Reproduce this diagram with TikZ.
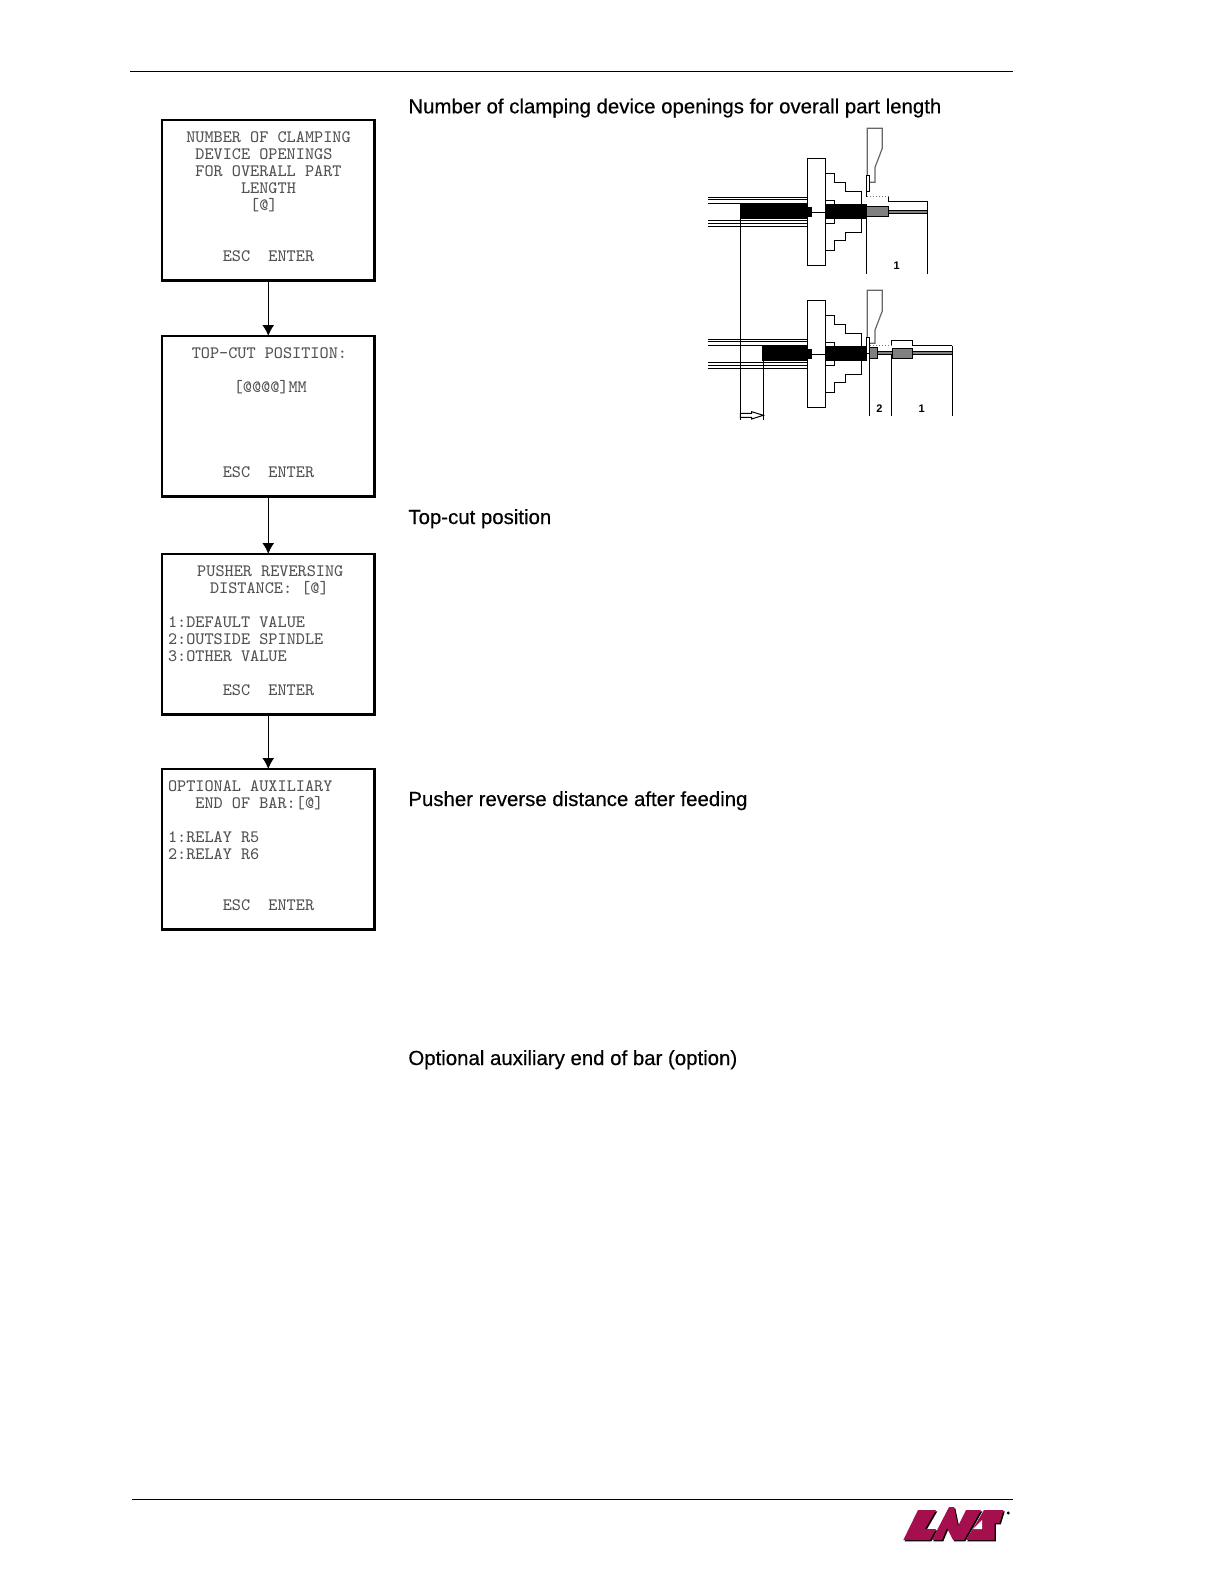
\documentclass[tikz,border=0pt]{standalone}
\usepackage{fontspec}
\usetikzlibrary{arrows.meta,positioning}
\newfontfamily\headfont[FakeBold=0.4]{Liberation Sans}
\newfontfamily\numfont{Liberation Sans}
\newlength{\colw}
\setlength{\colw}{4.567pt}
\newcommand{\cols}[1]{\hspace*{#1\colw}}
\newcommand{\escline}{\cols{6}ESC\ \ ENTER\rule[-3.7pt]{0pt}{3.7pt}}
\definecolor{lnsred}{HTML}{A50F4E}
\begin{document}
\begin{tikzpicture}[x=0.5pt,y=-0.5pt,
node distance=27.8pt,
screen/.style={draw,line width=1.1pt,outer sep=0pt,inner ysep=0pt,inner xsep=3pt,text width=100.25pt,minimum height=80.2pt,align=flush left,text=black!68,font=\fontsize{8.7}{8.45}\selectfont\ttfamily},
arr/.style={-{Latex[length=5.5pt,width=6pt]},line width=0.7pt},
head/.style={anchor=base west,inner sep=0pt,font=\fontsize{10.2}{12}\headfont},
num/.style={inner sep=0pt,font=\fontsize{5.5}{6}\numfont\bfseries},
wire/.style={line width=0.5pt},
toolline/.style={line width=0.6pt,draw=black!60},
part/.style={draw,fill=black!50,line width=0.5pt}]
\useasboundingbox (0,0) rectangle (1224,1584);
\draw[line width=0.5pt] (130,71.5) -- (1013,71.5);
\draw[line width=0.5pt] (132,1499) -- (1013,1499);
\node[screen,anchor=north west] (clamping) at (162,120) {\cols{2}NUMBER OF CLAMPING\\\cols{3}DEVICE OPENINGS\\\cols{3}FOR OVERALL PART\\\cols{8}LENGTH\\\cols{9}[@]\\~\\~\\\escline};
\node[screen,below=of clamping] (topcut) {\cols{2.6}TOP-CUT POSITION:\\~\\\cols{7.2}[@@@@]MM\\~\\~\\~\\~\\\escline};
\node[screen,below=28.8pt of topcut] (pusher) {\cols{3.2}PUSHER REVERSING\\\cols{4.6}DISTANCE: [@]\\~\\1:DEFAULT VALUE\\2:OUTSIDE SPINDLE\\3:OTHER VALUE\\~\\\escline};
\node[screen,below=27.3pt of pusher] (relay) {OPTIONAL AUXILIARY\\\cols{3}END OF BAR:[@]\\~\\1:RELAY R5\\2:RELAY R6\\~\\~\\\escline};
\draw[arr] (clamping) -- (topcut);
\draw[arr] (topcut) -- (pusher);
\draw[arr] (pusher) -- (relay);
\node[head] (headclamping) at (408,113.3) {Number of clamping device openings for overall part length};
\node[head] (headtopcut) at (408,524) {Top-cut position};
\node[head] (headpusher) at (408,806) {Pusher reverse distance after feeding};
\node[head] (headrelay) at (408,1065) {Optional auxiliary end of bar (option)};
\foreach \dy/\barx in {0/740.3,142/762.3}{
\begin{scope}[shift={(0,\dy)}]
\draw[wire] (807.3,158.3) rectangle (825.7,265.7);
\draw[wire] (825.7,173.3) -- (834.3,173.3) -- (834.3,182) -- (845.7,182) -- (845.7,191.3) -- (861.3,191.3) -- (861.3,232) -- (845.7,232) -- (845.7,240.7) -- (834.3,240.7) -- (834.3,250.7) -- (825.7,250.7);
\draw[wire] (825.7,200.3) -- (834.3,200.3) -- (834.3,204);
\draw[wire] (825.7,223.3) -- (834.3,223.3) -- (834.3,219);
\draw[wire] (708,197.3) -- (807.3,197.3) (708,199.7) -- (807.3,199.7) (708,203.3) -- (\barx,203.3) -- (807.3,203.3);
\draw[wire] (708,220.3) -- (807.3,220.3) (708,223.7) -- (807.3,223.7) (708,226.3) -- (807.3,226.3);
\fill (\barx,204) rectangle (807.3,218.7);
\fill (807.3,207.3) rectangle (812,216.7);
\fill (825.7,204) rectangle (866.7,218.7);
\draw[wire] (812,212.3) -- (825.7,212.3);
\end{scope}
}
\draw[toolline] (869.3,182.3) -- (875,182.3) -- (875,167.3) -- (882.3,148.3) -- (882.3,128.3) -- (867.3,128.3) -- (867.3,175.3);
\draw[wire,fill=white] (866.3,175.3) rectangle (869.7,191.3);
\draw[wire] (866,191.3) -- (866,197);
\draw[wire,densely dotted,draw=black!55] (866.7,196.7) -- (888.7,196.7);
\draw[wire] (888.7,196.7) -- (888.7,201) -- (926.7,201);
\draw[part] (866.7,206.3) rectangle (888.7,216.7);
\draw[part] (888.7,210) rectangle (927.3,213.3);
\draw[wire] (866.3,218.7) -- (866.3,274.3);
\draw[wire] (927.3,201) -- (927.3,274.3);
\node[num] (lengthone) at (896.7,266) {1};
\draw[toolline] (870,343.3) -- (875,343.3) -- (875,330) -- (882.3,311) -- (882.3,290.3) -- (867.3,290.3) -- (867.3,337.3);
\draw[wire,fill=white] (866.3,337.3) rectangle (869.7,353.3);
\draw[wire,densely dotted,draw=black!55] (870,345) -- (891.3,345);
\draw[wire] (891.3,345) -- (891.3,340.7) -- (912.7,340.7) -- (912.7,345.7) -- (952.3,345.7);
\draw[part] (877.7,351.3) rectangle (952.3,354.7);
\draw[part] (869.7,347.7) rectangle (877.7,358.3);
\draw[part] (892,348.3) rectangle (912.7,358.7);
\draw[wire] (869.7,353.3) -- (869.7,416);
\draw[wire] (891.7,355) -- (891.7,416);
\draw[wire] (952.3,345.7) -- (952.3,416);
\node[num] (lengthtwo) at (879.3,408.3) {2};
\node[num] (lengththree) at (921.7,408.3) {1};
\draw[wire] (740.3,218.7) -- (740.3,420);
\draw[wire] (763.3,360.7) -- (763.3,419.5);
\draw[wire,fill=white] (740.3,413.3) -- (751.7,413.3) -- (751.7,411.7) -- (763.3,415.3) -- (751.7,419) -- (751.7,417.3) -- (740.3,417.3) -- cycle;
\foreach \off/\col in {1.3/black,0/lnsred}{
\fill[\col,shift={(\off,\off)}] (903.3,1540) -- (918,1510) -- (936,1510) -- (925,1529) -- (936,1529) -- (930,1540) -- cycle;
\fill[\col,shift={(\off,\off)}] (932,1540) -- (949,1507) -- (954,1507) -- (958,1526) -- (966,1510) -- (981,1510) -- (964,1540) -- (953,1540) -- (947,1528) -- (942,1540) -- cycle;
\fill[\col,shift={(\off,\off)}] (966,1540) -- (984,1510) -- (1003.5,1510) -- (999.5,1523) -- (994.5,1523) -- (994.5,1540) -- cycle;
}
\fill[white] (973,1529) -- (982,1529) -- (982,1520) -- cycle;
\fill (1008.3,1513) circle (1.6);
\end{tikzpicture}
\end{document}
